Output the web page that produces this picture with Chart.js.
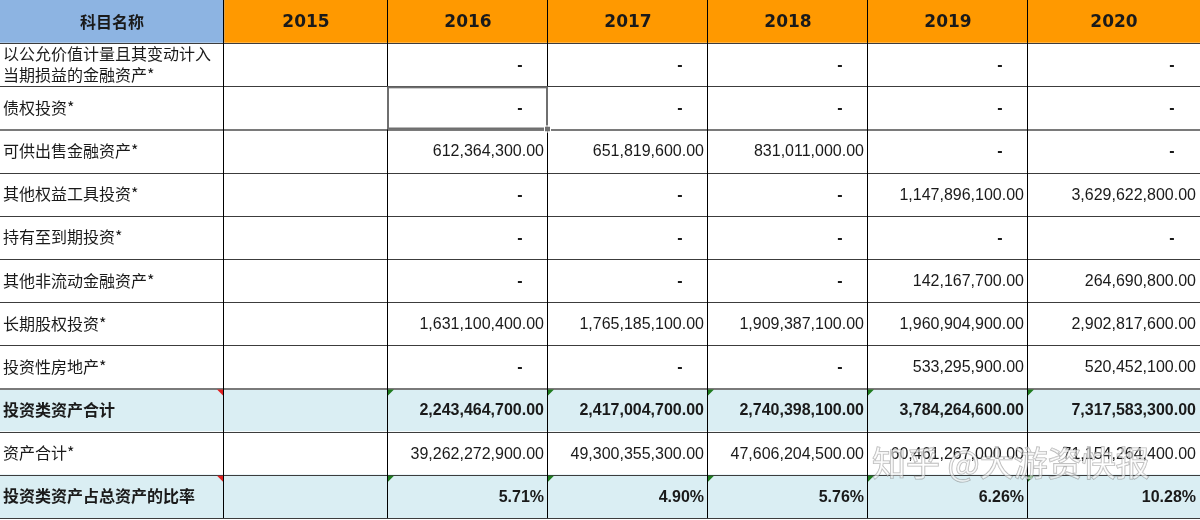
<!DOCTYPE html>
<html>
<head>
<meta charset="utf-8">
<script src="https://cdn.jsdelivr.net/npm/chart.js@4/dist/chart.umd.min.js"></script>
<style>
  body { margin: 0; background: #fff; }
  canvas { display: block; }
</style>
</head>
<body>
<canvas id="tableChart" width="1200" height="520"></canvas>
<script>
// Données du tableau
const headerLabel = '科目名称';
const years = ['2015', '2016', '2017', '2018', '2019', '2020'];
const rowNames = [
  '以公允价值计量且其变动计入\n当期损益的金融资产*',
  '债权投资*',
  '可供出售金融资产*',
  '其他权益工具投资*',
  '持有至到期投资*',
  '其他非流动金融资产*',
  '长期股权投资*',
  '投资性房地产*',
  '投资类资产合计',
  '资产合计*',
  '投资类资产占总资产的比率'
];

// null = case vide, 0 = "-"
const gongyunJiazhi = [null, 0, 0, 0, 0, 0];
const zhaiquanTouzi = [null, 0, 0, 0, 0, 0];
const kegongChushou = [null, 612364300, 651819600, 831011000, 0, 0];
const qitaQuanyi = [null, 0, 0, 0, 1147896100, 3629622800];
const chiyouDaoqi = [null, 0, 0, 0, 0, 0];
const qitaFeiliudong = [null, 0, 0, 0, 142167700, 264690800];
const changqiGuquan = [null, 1631100400, 1765185100, 1909387100, 1960904900, 2902817600];
const touziFangdichan = [null, 0, 0, 0, 533295900, 520452100];
const touziHeji = [null, 2243464700, 2417004700, 2740398100, 3784264600, 7317583300];
const zichanHeji = [null, 39262272900, 49300355300, 47606204500, 60461267000, 71154264400];
const zhanbi = [null, 5.71, 4.90, 5.76, 6.26, 10.28];

const rowValues = [gongyunJiazhi, zhaiquanTouzi, kegongChushou, qitaQuanyi, chiyouDaoqi,
  qitaFeiliudong, changqiGuquan, touziFangdichan, touziHeji, zichanHeji, zhanbi];
const boldRows = ['投资类资产合计', '投资类资产占总资产的比率'];
const percentRows = ['投资类资产占总资产的比率'];
const watermark = '知乎 @大游资快报';

// Mise en page des colonnes
const colWidths = [224, 164, 160, 160, 160, 160, 172];
const edges = [0];
colWidths.forEach(w => edges.push(edges[edges.length - 1] + w));

const yLabels = [headerLabel, ...rowNames];

const cellColor = (r, c) => {
  if (r === 0) return c === 0 ? '#8DB4E2' : '#FF9900';
  if (boldRows.includes(yLabels[r])) return '#DAEEF3';
  return '#FFFFFF';
};

const datasets = colWidths.map((w, c) => ({
  data: yLabels.map(() => [edges[c], edges[c + 1]]),
  backgroundColor: yLabels.map((lab, r) => cellColor(r, c)),
  borderWidth: 0,
  barPercentage: 1,
  categoryPercentage: 1,
  grouped: false
}));

const fmt = v => v.toLocaleString('en-US', { minimumFractionDigits: 2, maximumFractionDigits: 2 });

const gridPlugin = {
  id: 'grid',
  afterDatasetsDraw(chart) {
    const ctx = chart.ctx;
    const xs = chart.scales.x, ys = chart.scales.y;
    const rowH = ys.getPixelForValue(1) - ys.getPixelForValue(0);
    const top = r => ys.getPixelForValue(r) - rowH / 2;
    const px = v => Math.round(v) + 0.5;
    const x0 = xs.getPixelForValue(edges[0]);
    const x1 = xs.getPixelForValue(edges[edges.length - 1]);

    ctx.save();
    // lignes horizontales
    for (let r = 1; r <= yLabels.length; r++) {
      const thick = r === 3 || r === 9;
      ctx.strokeStyle = thick ? '#7a7a7a' : '#3c3c3c';
      ctx.lineWidth = thick ? 2 : 1;
      ctx.beginPath();
      const yy = thick ? Math.round(top(r)) : px(top(r));
      ctx.moveTo(x0, yy);
      ctx.lineTo(x1, yy);
      ctx.stroke();
    }
    // lignes verticales
    ctx.strokeStyle = '#000';
    ctx.lineWidth = 1;
    for (let c = 1; c < edges.length - 1; c++) {
      const xx = px(xs.getPixelForValue(edges[c]) - 1);
      ctx.beginPath();
      ctx.moveTo(xx, top(0));
      ctx.lineTo(xx, top(yLabels.length));
      ctx.stroke();
    }

    // cellule sélectionnée (债权投资 / 2016)
    const sx0 = xs.getPixelForValue(edges[2]), sx1 = xs.getPixelForValue(edges[3]);
    const sy0 = top(2), sy1 = top(3);
    ctx.strokeStyle = '#6f6f6f';
    ctx.lineWidth = 2;
    ctx.strokeRect(sx0, sy0 + 1, sx1 - sx0 - 1, sy1 - sy0 - 2);
    ctx.fillStyle = '#6f6f6f';
    ctx.fillRect(sx1 - 3, sy1 - 3, 5, 5);
    ctx.strokeStyle = '#fff';
    ctx.lineWidth = 1;
    ctx.strokeRect(sx1 - 3.5, sy1 - 3.5, 6, 6);

    // triangles (commentaires / erreurs)
    yLabels.forEach((lab, r) => {
      if (!boldRows.includes(lab)) return;
      const ty = top(r) + 1;
      const rx = xs.getPixelForValue(edges[1]) - 1;
      ctx.fillStyle = '#E02020';
      ctx.beginPath();
      ctx.moveTo(rx - 6, ty);
      ctx.lineTo(rx, ty);
      ctx.lineTo(rx, ty + 6);
      ctx.fill();
      ctx.fillStyle = '#1E7B1E';
      for (let c = 2; c < edges.length - 1; c++) {
        const lx = xs.getPixelForValue(edges[c]);
        ctx.beginPath();
        ctx.moveTo(lx, ty);
        ctx.lineTo(lx + 6, ty);
        ctx.lineTo(lx, ty + 6);
        ctx.fill();
      }
    });

    // textes
    ctx.textBaseline = 'middle';
    yLabels.forEach((lab, r) => {
      const cy = ys.getPixelForValue(r);
      const bold = boldRows.includes(lab);
      if (r === 0) {
        ctx.fillStyle = '#1a1a1a';
        ctx.textAlign = 'center';
        ctx.font = 'bold 16px "Noto Sans CJK SC"';
        ctx.fillText(lab, xs.getPixelForValue((edges[0] + edges[1]) / 2), cy);
        ctx.font = 'bold 17px "DejaVu Sans"';
        years.forEach((yr, i) => {
          ctx.fillText(yr, xs.getPixelForValue((edges[i + 1] + edges[i + 2]) / 2), cy + 1);
        });
        return;
      }
      ctx.fillStyle = '#1a1a1a';
      ctx.textAlign = 'left';
      ctx.font = (bold ? 'bold ' : '') + '16px "Noto Sans CJK SC"';
      const lines = lab.split('\n');
      lines.forEach((ln, k) => {
        ctx.fillText(ln, xs.getPixelForValue(edges[0]) + 3, cy + (k - (lines.length - 1) / 2) * 21);
      });

      const vals = rowValues[r - 1];
      const pct = percentRows.includes(lab);
      ctx.font = (bold ? 'bold ' : '') + '16px "Liberation Sans"';
      vals.forEach((v, i) => {
        if (v === null) return;
        const right = xs.getPixelForValue(edges[i + 2]);
        if (v === 0) {
          ctx.textAlign = 'center';
          ctx.font = 'bold 16px "Liberation Sans"';
          ctx.fillText('-', right - 28, cy + 1);
          ctx.font = (bold ? 'bold ' : '') + '16px "Liberation Sans"';
        } else {
          ctx.textAlign = 'right';
          ctx.fillText(pct ? v.toFixed(2) + '%' : fmt(v), right - 4, cy + 1);
        }
      });
    });
    ctx.restore();
  },
  afterDraw(chart) {
    const ctx = chart.ctx;
    ctx.save();
    ctx.font = '34px "Noto Sans CJK SC"';
    ctx.textAlign = 'left';
    ctx.textBaseline = 'middle';
    ctx.fillStyle = 'rgba(255,255,255,0.55)';
    ctx.strokeStyle = 'rgba(110,110,110,0.5)';
    ctx.lineWidth = 1.2;
    ctx.strokeText(watermark, 872, 463);
    ctx.fillText(watermark, 872, 463);
    ctx.restore();
  }
};

new Chart(document.getElementById('tableChart'), {
  type: 'bar',
  data: { labels: yLabels, datasets: datasets },
  options: {
    indexAxis: 'y',
    responsive: false,
    animation: false,
    layout: { padding: { bottom: 2 } },
    scales: {
      x: { type: 'linear', min: 0, max: 1200, display: false },
      y: { type: 'category', display: false, offset: true }
    },
    plugins: {
      legend: { display: false },
      tooltip: { enabled: false }
    }
  },
  plugins: [gridPlugin]
});
</script>
</body>
</html>
